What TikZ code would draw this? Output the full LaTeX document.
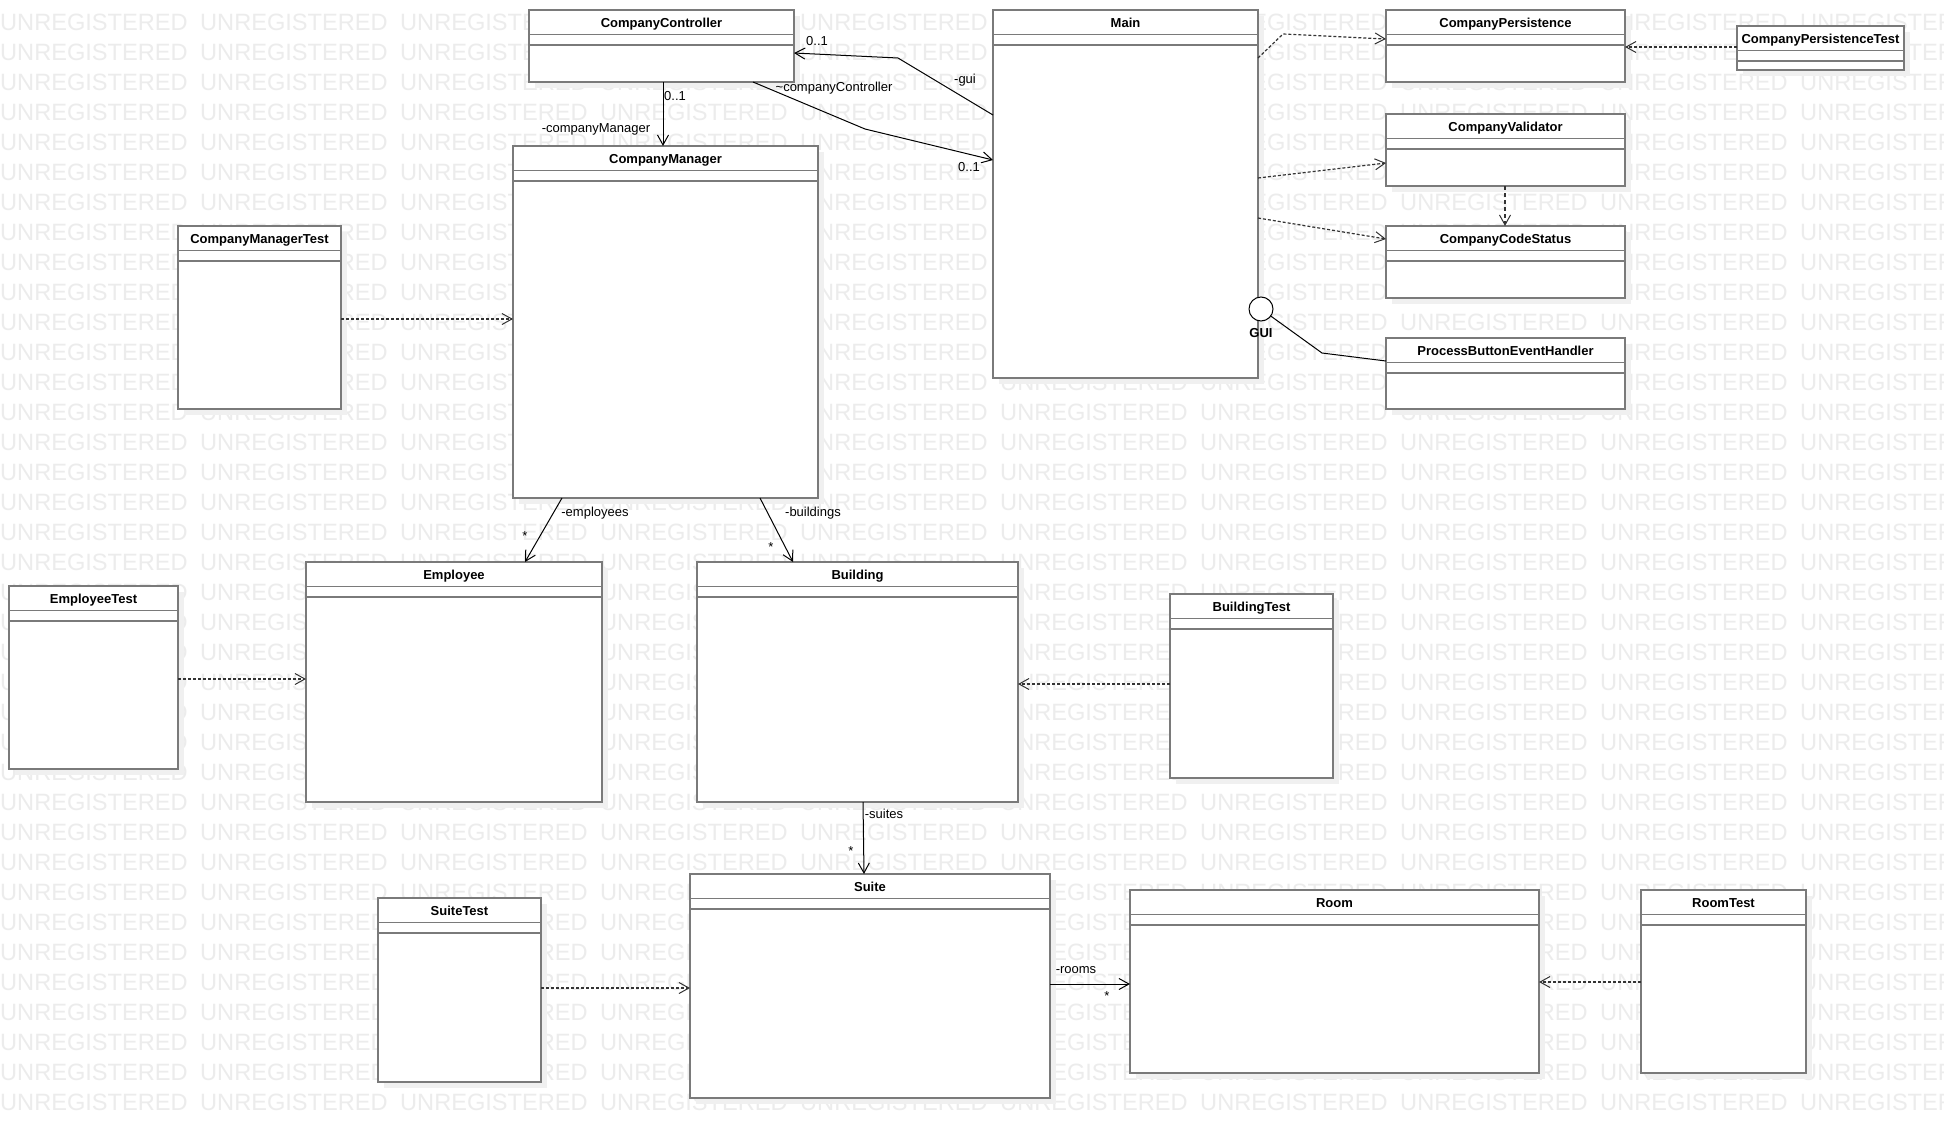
\documentclass[tikz,border=0pt]{standalone}
\usepackage{fontspec}
\setmainfont{Liberation Sans}
\usetikzlibrary{arrows.meta}

\definecolor{boxgray}{HTML}{7A7A7A}
\definecolor{shadowc}{HTML}{F0F0F0}
\definecolor{wmgray}{HTML}{ECECEC}
\definecolor{depgray}{HTML}{333333}

\newcommand\clsfont{\fontsize{13}{15}\selectfont\bfseries}
\newcommand\lblfont{\fontsize{13}{15}\selectfont}
\newcommand\wmfont{\fontsize{23.6}{26}\selectfont}

% class box: name, x1, y1, x2, y2, title (header 24.5, empty attribute compartment 10.5)
\newcommand\umlclass[6]{%
  \fill[shadowc] (#2+6,#3+6) rectangle (#4+6,#5+6);
  \node[classbox, anchor=north west, minimum width={(#4)-(#2)}, minimum height={(#5)-(#3)}] (#1) at (#2,#3) {};
  \draw[boxline] (#2,#3+24.5) -- (#4,#3+24.5) (#2,#3+35) -- (#4,#3+35);
  \node[classname] at ({(#2+#4)/2},#3+17.3) {#6};
}

\tikzset{
  classbox/.style={rectangle, draw=boxgray, line width=1.6pt, fill=white, inner sep=0pt, outer sep=0pt},
  boxline/.style={draw=boxgray, line width=1.6pt},
  classname/.style={font=\clsfont, inner sep=0pt, anchor=base},
  assoc/.style={draw=black, line width=1pt, -{Straight Barb[length=10pt,width=11pt,line width=1pt]}},
  depend/.style={draw=depgray, line width=1.2pt, dash pattern=on 3pt off 2pt, -{Straight Barb[length=10pt,width=11pt,line width=1pt]}},
  lbl/.style={font=\lblfont, inner sep=0pt, anchor=base},
  wm/.style={font=\wmfont, text=wmgray, inner sep=0pt, anchor=base west},
}

\begin{document}
\begin{tikzpicture}[x=1pt, y=-1pt]
  \useasboundingbox (0,0) rectangle (1944,1138);
  \fill[white] (0,0) rectangle (1944,1138);
  \begin{scope}
    \clip (0,0) rectangle (1944,1138);
    % watermark tiles
    \foreach \r in {0,...,36} {
      \foreach \c in {0,...,9} {
        \node[wm] at (200*\c, 30+30*\r) {UNREGISTERED};
      }
    }
  \end{scope}

  % classes
  \umlclass{cc}{529}{10}{794}{82}{CompanyController}
  \umlclass{main}{993}{10}{1258}{378}{Main}
  \umlclass{cp}{1386}{10}{1625}{82}{CompanyPersistence}
  \umlclass{cpt}{1737}{26}{1904}{70}{CompanyPersistenceTest}
  \umlclass{cv}{1386}{114}{1625}{186}{CompanyValidator}
  \umlclass{ccs}{1386}{226}{1625}{298}{CompanyCodeStatus}
  \umlclass{pbh}{1386}{338}{1625}{409}{ProcessButtonEventHandler}
  \umlclass{cm}{513}{146}{818}{498}{CompanyManager}
  \umlclass{cmt}{178}{226}{341}{409}{CompanyManagerTest}
  \umlclass{emp}{306}{562}{602}{802}{Employee}
  \umlclass{empt}{9}{586}{178}{769}{EmployeeTest}
  \umlclass{bld}{697}{562}{1018}{802}{Building}
  \umlclass{bldt}{1170}{594}{1333}{778}{BuildingTest}
  \umlclass{suite}{690}{874}{1050}{1098}{Suite}
  \umlclass{suitet}{378}{898}{541}{1082}{SuiteTest}
  \umlclass{room}{1130}{890}{1539}{1073}{Room}
  \umlclass{roomt}{1641}{890}{1806}{1073}{RoomTest}

  % provided interface of Main
  \node[circle, draw=black, fill=white, line width=1pt, minimum size=24pt, inner sep=0pt] (gui) at (1261,309) {};
  \node[lbl, font=\clsfont] (guilbl) at (1261,337.7) {GUI};
  \draw[black, line width=1pt] (gui) -- (1322,353) -- (pbh.west |- 0,361);

  % associations
  \draw[assoc] (main.west |- 0,115) -- (898,58) -- (cc.east |- 0,53);
  \draw[assoc] (cc.south -| 753,0) -- (865,129) -- (main.west |- 0,160);
  \draw[assoc] (cc.south -| 663,0) -- (cm.north -| 663,0);
  \draw[assoc] (cm.south -| 562,0) -- (emp.north -| 525,0);
  \draw[assoc] (cm.south -| 760,0) -- (bld.north -| 793,0);
  \draw[assoc] (bld.south -| 863,0) -- (suite.north -| 864,0);
  \draw[assoc] (suite.east |- 0,984) -- (room.west |- 0,984);

  % dependencies
  \draw[depend] (cmt.east |- 0,319) -- (cm.west |- 0,319);
  \draw[depend] (empt.east |- 0,679) -- (emp.west |- 0,679);
  \draw[depend] (bldt.west |- 0,684) -- (bld.east |- 0,684);
  \draw[depend] (suitet.east |- 0,988) -- (suite.west |- 0,988);
  \draw[depend] (roomt.west |- 0,982) -- (room.east |- 0,982);
  \draw[depend] (cpt.west |- 0,47) -- (cp.east |- 0,47);
  \draw[depend] (main.east |- 0,58) -- (1283,34) -- (cp.west |- 0,39);
  \draw[depend] (main.east |- 0,178) -- (cv.west |- 0,163);
  \draw[depend] (main.east |- 0,218) -- (ccs.west |- 0,239);
  \draw[depend, dash pattern=on 4pt off 3pt] (cv.south -| 1505,0) -- (ccs.north -| 1505,0);

  % role names and multiplicities
  \node[lbl] (m1) at (817,45.5) {0..1};
  \node[lbl] (r1) at (965,83.5) {-gui};
  \node[lbl] (r2) at (834,91) {\textasciitilde companyController};
  \node[lbl] (m2) at (969,171.7) {0..1};
  \node[lbl] (m3) at (675,100) {0..1};
  \node[lbl] (r3) at (596,132.5) {-companyManager};
  \node[lbl] (r4) at (595,516) {-employees};
  \node[lbl] (m4) at (525,540) {*};
  \node[lbl] (r5) at (813,516) {-buildings};
  \node[lbl] (m5) at (771,551) {*};
  \node[lbl] (r6) at (884,818) {-suites};
  \node[lbl] (m6) at (851,855) {*};
  \node[lbl] (r7) at (1076,973) {-rooms};
  \node[lbl] (m7) at (1107,1000) {*};
\end{tikzpicture}
\end{document}
